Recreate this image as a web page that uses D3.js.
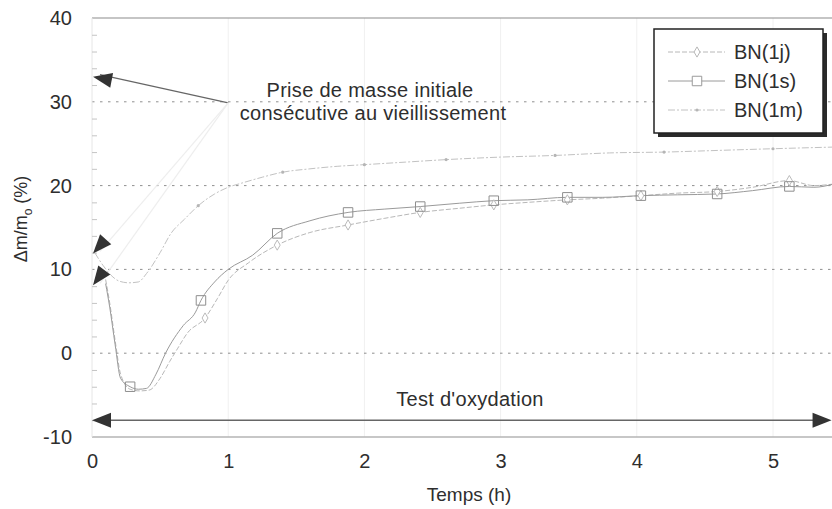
<!DOCTYPE html>
<html>
<head>
<meta charset="utf-8">
<script src="https://cdn.jsdelivr.net/npm/d3@7"></script>
<style>
body { margin: 0; background: #fff; }
svg { display: block; font-family: "Liberation Sans", Arial, Helvetica, sans-serif; }
</style>
</head>
<body>
<svg width="832" height="509"></svg>
<script>
// time (h) and mass gain (%)
let t1j = [0.1, 0.13, 0.17, 0.21, 0.28, 0.35, 0.42, 0.5, 0.57, 0.63, 0.7, 0.83, 0.92, 1.0, 1.15, 1.36, 1.6, 1.88, 2.15, 2.41, 2.7, 2.95, 3.2, 3.49, 3.75, 4.03, 4.3, 4.59, 4.85, 5.12, 5.3, 5.45]
let v1j = [8.8, 6.0, 1.5, -2.5, -4.3, -4.5, -4.4, -3.0, -1.0, 0.6, 2.4, 4.2, 6.5, 8.7, 10.8, 12.9, 14.4, 15.3, 16.1, 16.8, 17.3, 17.7, 18.0, 18.3, 18.5, 18.8, 19.1, 19.3, 19.8, 20.6, 20.0, 20.2]
let mark1j = [0.83, 1.36, 1.88, 2.41, 2.95, 3.49, 4.03, 4.59, 5.12]

let t1s = [0.1, 0.13, 0.17, 0.21, 0.28, 0.34, 0.4, 0.47, 0.54, 0.67, 0.76, 0.8, 0.9, 1.0, 1.18, 1.36, 1.6, 1.88, 2.15, 2.41, 2.7, 2.95, 3.2, 3.49, 3.75, 4.03, 4.3, 4.59, 4.85, 5.12, 5.3, 5.45]
let v1s = [8.3, 5.5, 1.0, -3.0, -4.0, -4.3, -4.2, -2.5, 0.0, 3.3, 4.9, 6.3, 8.5, 10.0, 11.7, 14.3, 15.8, 16.8, 17.2, 17.5, 17.9, 18.2, 18.3, 18.6, 18.6, 18.8, 18.9, 19.0, 19.4, 19.9, 19.8, 20.2]
let mark1s = [0.28, 0.8, 1.36, 1.88, 2.41, 2.95, 3.49, 4.03, 4.59, 5.12]

let t1m = [0.02, 0.08, 0.14, 0.2, 0.27, 0.34, 0.4, 0.5, 0.58, 0.68, 0.78, 0.9, 1.0, 1.1, 1.25, 1.4, 1.6, 1.8, 2.0, 2.3, 2.6, 3.0, 3.4, 3.8, 4.2, 4.6, 5.0, 5.45]
let v1m = [12.0, 10.5, 9.3, 8.6, 8.4, 8.5, 9.5, 12.0, 14.3, 16.0, 17.6, 19.0, 19.8, 20.3, 21.0, 21.6, 22.0, 22.3, 22.5, 22.8, 23.1, 23.4, 23.6, 23.9, 24.0, 24.2, 24.4, 24.6]
let mark1m = [0.78, 1.4, 2.0, 2.6, 3.4, 4.2, 5.0]

let seriesNames = ["BN(1j)", "BN(1s)", "BN(1m)"]
let yTicks = [-10, 0, 10, 20, 30, 40]
let xTicks = [0, 1, 2, 3, 4, 5]

// annotation anchors, in data units
let initialGain = [33, 11.9, 8.1]
let noteAt = [1.0, 30]
let oxStart = 0, oxEnd = 5.43, oxLevel = -8

let svg = d3.select("svg")
let font = "Liberation Sans, Arial, Helvetica, sans-serif"
let ink = "#2e2e2e"
let fs = "20px"

let x = d3.scaleLinear().domain([0, 5]).range([92, 773])
let y = d3.scaleLinear().domain([-10, 40]).range([437, 18])
let xEnd = 832

svg.append("rect").attr("width", 832).attr("height", 509).style("fill", "#fff")

// filled triangle whose tip sits at (x2,y2), pointing away from (x1,y1)
function headPath(x1, y1, x2, y2) {
    let a = Math.atan2(y2 - y1, x2 - x1)
    let len = 19, half = 7.5
    let bx = x2 - len * Math.cos(a), by = y2 - len * Math.sin(a)
    let px = -Math.sin(a) * half, py = Math.cos(a) * half
    return "M" + x2 + "," + y2 + "L" + (bx + px) + "," + (by + py) + "L" + (bx - px) + "," + (by - py) + "Z"
}

// faint vertical grid
svg.selectAll(".vgrid")
    .data(xTicks.filter(d => d > 0))
    .join("line")
    .attr("x1", d => x(d)).attr("x2", d => x(d))
    .attr("y1", y(40)).attr("y2", y(-10))
    .style("stroke", "#f0f0f0")
    .style("stroke-width", 1)

// dotted horizontal grid
svg.selectAll(".hgrid")
    .data([0, 10, 20, 30])
    .join("line")
    .attr("x1", x(0)).attr("x2", xEnd)
    .attr("y1", d => y(d)).attr("y2", d => y(d))
    .style("stroke", "#8f8f8f")
    .style("stroke-width", 1)
    .style("stroke-dasharray", "2.5,5.5")

// top and bottom frame lines
svg.append("line")
    .attr("x1", x(0)).attr("x2", xEnd)
    .attr("y1", y(40)).attr("y2", y(40))
    .style("stroke", "#8c8c8c").style("stroke-width", 1.2)
svg.append("line")
    .attr("x1", x(0)).attr("x2", xEnd)
    .attr("y1", y(-10)).attr("y2", y(-10))
    .style("stroke", "#b4b4b4").style("stroke-width", 1.5)
svg.append("line")
    .attr("x1", x(0)).attr("x2", x(0))
    .attr("y1", y(40)).attr("y2", y(-10))
    .style("stroke", "#e6e6e6").style("stroke-width", 1)

// minor y ticks
let minor = d3.range(-8, 40, 2).filter(d => d % 10 != 0)
svg.append("g")
    .attr("transform", "translate(" + x(0) + ",0)")
    .call(d3.axisRight(y).tickValues(minor).tickSize(5).tickFormat(""))
    .call(g => g.select(".domain").remove())
    .selectAll("line").style("stroke", "#c4c4c4")

// y labels
let yAxis = svg.append("g")
    .attr("transform", "translate(" + x(0) + ",0)")
    .call(d3.axisLeft(y).tickValues(yTicks).tickSize(0).tickPadding(20).tickFormat(d => String(d)))
yAxis.select(".domain").remove()
yAxis.selectAll("text")
    .style("font-family", font).style("font-size", fs).style("fill", ink)

// x labels
let xAxis = svg.append("g")
    .attr("transform", "translate(0," + y(-10) + ")")
    .call(d3.axisBottom(x).tickValues(xTicks).tickSize(0).tickPadding(17).tickFormat(d => String(d)))
xAxis.select(".domain").remove()
xAxis.selectAll("text")
    .style("font-family", font).style("font-size", fs).style("fill", ink)

svg.append("text")
    .attr("x", 469).attr("y", 501)
    .attr("text-anchor", "middle")
    .style("font-size", "19px").style("fill", ink)
    .text("Temps (h)")

let ylab = svg.append("text")
    .attr("transform", "translate(27,219) rotate(-90)")
    .attr("text-anchor", "middle")
    .style("font-size", "18px").style("fill", ink)
ylab.append("tspan").text("\u0394m/m")
ylab.append("tspan").attr("dy", 5).style("font-size", "12px").text("o")
ylab.append("tspan").attr("dy", -5).text(" (%)")

// curves
let line = d3.line()
    .x(d => x(d[0]))
    .y(d => y(d[1]))
    .curve(d3.curveMonotoneX)

let s1j = d3.zip(t1j, v1j)
let s1s = d3.zip(t1s, v1s)
let s1m = d3.zip(t1m, v1m)

let styles = [
    { stroke: "#b8b8b8", dash: "5,2", width: 1 },
    { stroke: "#9a9a9a", dash: null, width: 1 },
    { stroke: "#c2c2c2", dash: "7,2,2,2", width: 1 }
]

svg.append("path").datum(s1m).attr("d", line)
    .style("fill", "none").style("stroke", styles[2].stroke)
    .style("stroke-width", styles[2].width).style("stroke-dasharray", styles[2].dash)
svg.append("path").datum(s1j).attr("d", line)
    .style("fill", "none").style("stroke", styles[0].stroke)
    .style("stroke-width", styles[0].width).style("stroke-dasharray", styles[0].dash)
svg.append("path").datum(s1s).attr("d", line)
    .style("fill", "none").style("stroke", styles[1].stroke)
    .style("stroke-width", styles[1].width)

function valueAt(ts, vs, t) {
    return d3.scaleLinear().domain(ts).range(vs)(t)
}

let diamond = d3.symbol().type(d3.symbolDiamond).size(30)
let square = d3.symbol().type(d3.symbolSquare).size(90)
let dot = d3.symbol().type(d3.symbolCircle).size(8)

svg.selectAll(".m1j")
    .data(mark1j)
    .join("path")
    .attr("d", diamond)
    .attr("transform", d => "translate(" + x(d) + "," + y(valueAt(t1j, v1j, d)) + ")")
    .style("fill", "#fff").style("stroke", "#bbb").style("stroke-width", 1)

svg.selectAll(".m1s")
    .data(mark1s)
    .join("path")
    .attr("d", square)
    .attr("transform", d => "translate(" + x(d) + "," + y(valueAt(t1s, v1s, d)) + ")")
    .style("fill", "none").style("stroke", "#8e8e8e").style("stroke-width", 1)

svg.selectAll(".m1m")
    .data(mark1m)
    .join("path")
    .attr("d", dot)
    .attr("transform", d => "translate(" + x(d) + "," + y(valueAt(t1m, v1m, d)) + ")")
    .style("fill", "#b5b5b5")

// annotation: initial mass gain
let nx = x(noteAt[0]), ny = y(noteAt[1]) + 1
svg.selectAll(".gain")
    .data(initialGain)
    .join("line")
    .attr("x1", nx).attr("y1", ny)
    .attr("x2", x(0) + 8).attr("y2", d => y(d) - 2)
    .style("stroke", (d, i) => i == 0 ? "#666" : "#eeeeee")
    .style("stroke-width", 1.2)
svg.selectAll(".gainHead")
    .data(initialGain)
    .join("path")
    .attr("d", d => headPath(nx, ny, x(0) + 1, y(d)))
    .style("fill", "#333")

let note = svg.append("text")
    .attr("text-anchor", "middle")
    .style("font-size", fs).style("fill", ink)
    .style("letter-spacing", "0.3px")
note.append("tspan").attr("x", 370).attr("y", 97).text("Prise de masse initiale")
note.append("tspan").attr("x", 373).attr("y", 120).text("consécutive au vieillissement")

// annotation: oxidation test span
svg.append("line")
    .attr("x1", x(oxStart) + 10).attr("x2", x(oxEnd) - 10)
    .attr("y1", y(oxLevel)).attr("y2", y(oxLevel))
    .style("stroke", "#666").style("stroke-width", 1.3)
svg.append("path")
    .attr("d", headPath(x(oxEnd), y(oxLevel), x(oxStart), y(oxLevel)))
    .style("fill", "#333")
svg.append("path")
    .attr("d", headPath(x(oxStart), y(oxLevel), x(oxEnd), y(oxLevel)))
    .style("fill", "#333")

svg.append("text")
    .attr("x", 470).attr("y", 406)
    .attr("text-anchor", "middle")
    .style("font-size", fs).style("fill", ink)
    .style("letter-spacing", "0.3px")
    .text("Test d'oxydation")

// legend
let legend = svg.append("g").attr("transform", "translate(654,29)")
legend.append("rect")
    .attr("x", 4).attr("y", 4).attr("width", 169).attr("height", 104)
    .style("fill", "#2a2a2a")
legend.append("rect")
    .attr("width", 169).attr("height", 104)
    .style("fill", "#fff").style("stroke", "#222").style("stroke-width", 1.5)

let legendMarks = [diamond, square, dot]
let rows = legend.selectAll(".row")
    .data(seriesNames)
    .join("g")
    .attr("transform", (d, i) => "translate(0," + (23 + i * 29) + ")")

rows.append("line")
    .attr("x1", 14).attr("x2", 71)
    .style("stroke", (d, i) => styles[i].stroke)
    .style("stroke-width", 1)
    .style("stroke-dasharray", (d, i) => styles[i].dash)
rows.append("path")
    .attr("d", (d, i) => legendMarks[i]())
    .attr("transform", "translate(43,0)")
    .style("fill", (d, i) => i == 2 ? "#b5b5b5" : "#fff")
    .style("stroke", (d, i) => i == 2 ? "none" : styles[i].stroke)
rows.append("text")
    .attr("x", 80).attr("y", 7)
    .style("font-size", fs).style("fill", ink)
    .text(d => d)
</script>
</body>
</html>
